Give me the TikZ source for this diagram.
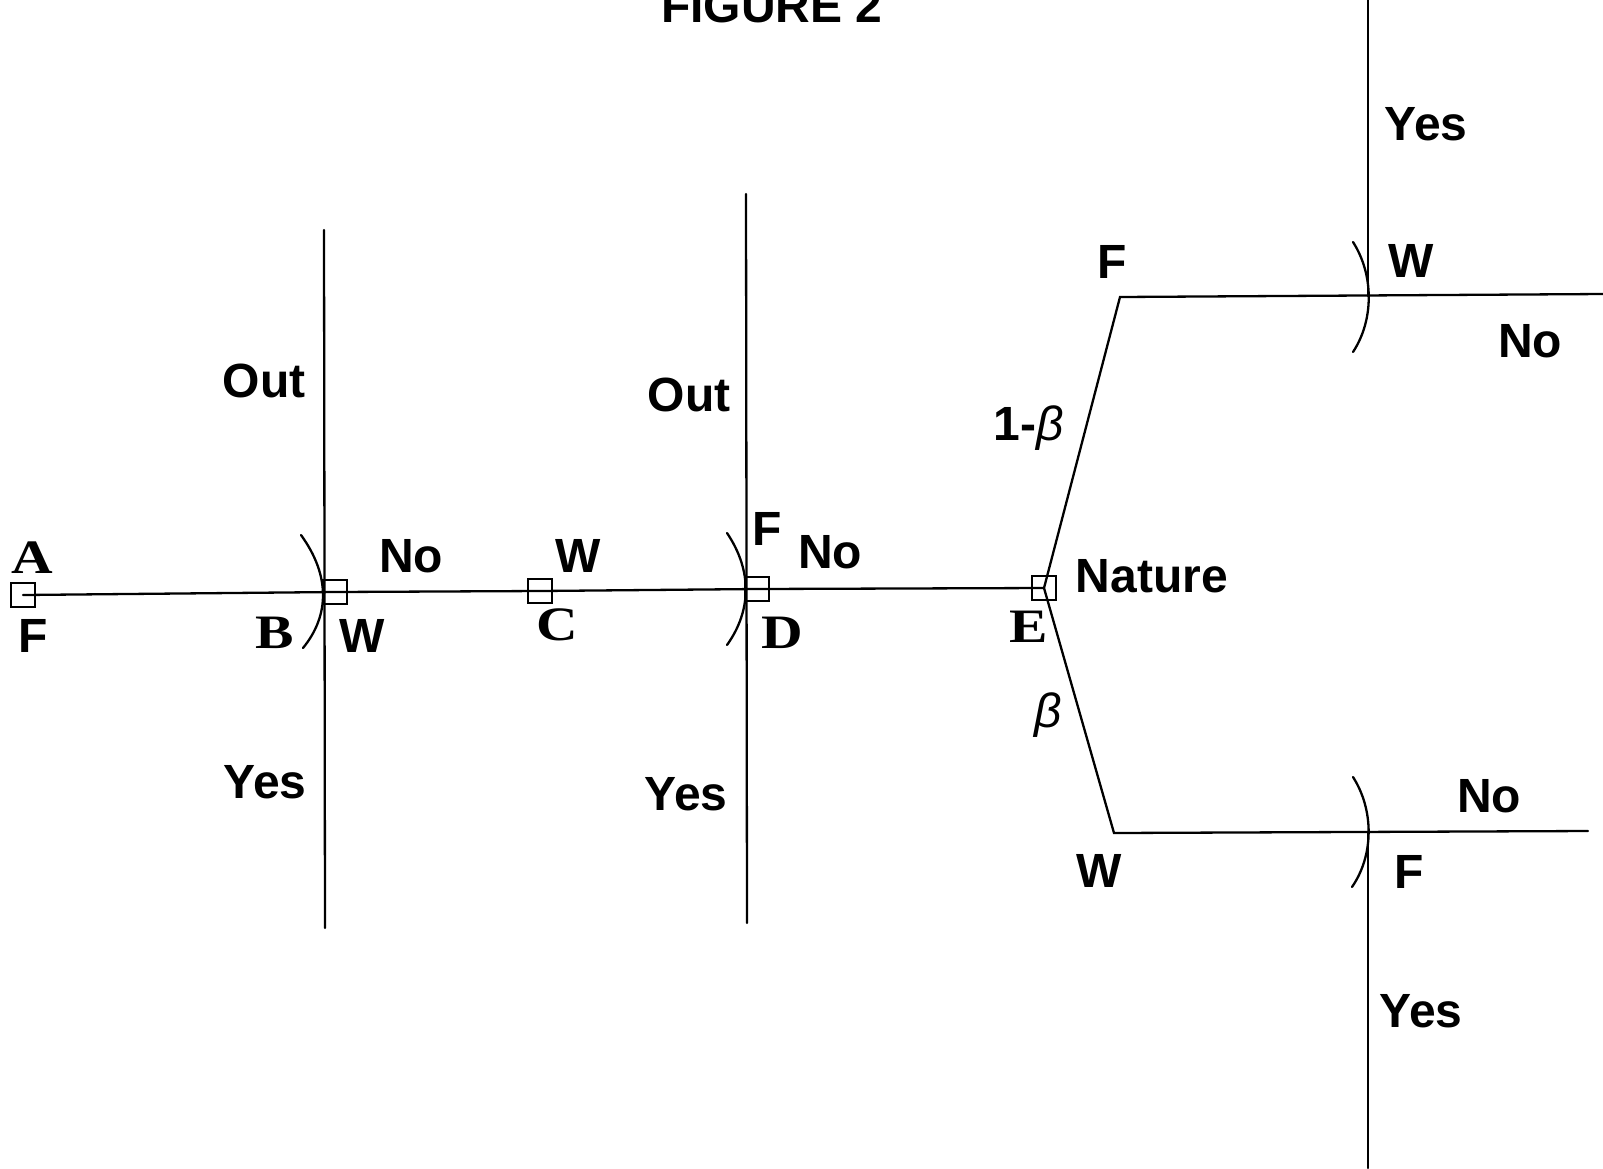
\documentclass[tikz,border=0pt]{standalone}
\usepackage{fontspec}
\setmainfont{Liberation Sans}
\newfontfamily\serifbold{Liberation Serif}[UprightFont={* Bold}]
\newcommand{\wideletter}[1]{\scalebox{1.2}[1]{#1}}
\begin{document}
\begin{tikzpicture}[x=1pt,y=-1pt,
  ln/.style={line width=2.3pt,line cap=round},
  sq/.style={draw,line width=2pt,minimum size=24pt,inner sep=0pt},
  lab/.style={inner sep=0pt,anchor=base,font=\fontsize{48}{50}\selectfont\bfseries},
  ser/.style={inner sep=0pt,anchor=base,font=\fontsize{48}{50}\selectfont\serifbold},
  gr/.style={inner sep=0pt,anchor=base,font=\fontsize{48}{50}\selectfont\itshape}]
\useasboundingbox (0,0) rectangle (1603,1168);
% decision nodes
\node[sq] (A) at (23,595) {};
\node[sq] (B) at (335,592) {};
\node[sq] (C) at (540,591) {};
\node[sq] (D) at (757,589) {};
\node[sq] (E) at (1044,588) {};
% corner and end coordinates
\coordinate (Btop) at (324,230);
\coordinate (Bbot) at (325,928);
\coordinate (Dtop) at (746,194);
\coordinate (Dbot) at (747,923);
\coordinate (Fc) at (1120,297);
\coordinate (Wc) at (1114,833);
\coordinate (Fend) at (1603,294);
\coordinate (Wend) at (1588,831);
\coordinate (Utop) at (1368,0);
\coordinate (Ux) at (1368,296);
\coordinate (Lx) at (1368,832);
\coordinate (Lbot) at (1368,1168);
% main line
\draw[ln] (A.center) -- (B.center) -- (C.center) -- (D.center) -- (E.center);
\draw[ln] (Btop) -- (Bbot);
\draw[ln] (Dtop) -- (Dbot);
\draw[ln] (E.center) -- (Fc) -- (Fend);
\draw[ln] (E.center) -- (Wc) -- (Wend);
\draw[ln] (Utop) -- (Ux);
\draw[ln] (Lx) -- (Lbot);
% information-set arcs
\draw[ln] (301,535) .. controls (330,575) and (330,615) .. (303,648);
\draw[ln] (727,533) .. controls (752,570) and (752,610) .. (727,645);
\draw[ln] (1353,242) .. controls (1374,275) and (1374,320) .. (1353,352);
\draw[ln] (1353,777) .. controls (1374,810) and (1374,855) .. (1352,887);
% labels
\node[lab] (title) at (772,22) {FIGURE 2};
\node[ser] (lA) at (32,573) {\wideletter{A}};
\node[lab] (lAF) at (33,652) {F};
\node[ser] (lB) at (275,648) {\wideletter{B}};
\node[lab] (lBW) at (362,652) {W};
\node[lab] (lBNo) at (411,572) {No};
\node[lab] (lBOut) at (264,397) {Out};
\node[lab] (lBYes) at (265,798) {Yes};
\node[lab] (lCW) at (578,572) {W};
\node[ser] (lC) at (557,640) {\wideletter{C}};
\node[lab] (lDF) at (767,545) {F};
\node[lab] (lDNo) at (830,568) {No};
\node[ser] (lD) at (782,648) {\wideletter{D}};
\node[lab] (lDOut) at (689,411) {Out};
\node[lab] (lDYes) at (686,810) {Yes};
\node[ser] (lE) at (1029,642) {\wideletter{E}};
\node[lab] (lNat) at (1152,592) {Nature};
\node[inner sep=0pt,anchor=base] (lOneB) at (1029,440) {\fontsize{48}{50}\selectfont\bfseries 1-\mdseries\itshape β};
\node[gr] (lBeta) at (1048,727) {β};
\node[lab] (lUF) at (1112,278) {F};
\node[lab] (lLW) at (1099,887) {W};
\node[lab] (lUYes) at (1426,140) {Yes};
\node[lab] (lUW) at (1411,277) {W};
\node[lab] (lUNo) at (1530,357) {No};
\node[lab] (lLNo) at (1489,812) {No};
\node[lab] (lLF) at (1409,888) {F};
\node[lab] (lLYes) at (1421,1027) {Yes};
\end{tikzpicture}
\end{document}
